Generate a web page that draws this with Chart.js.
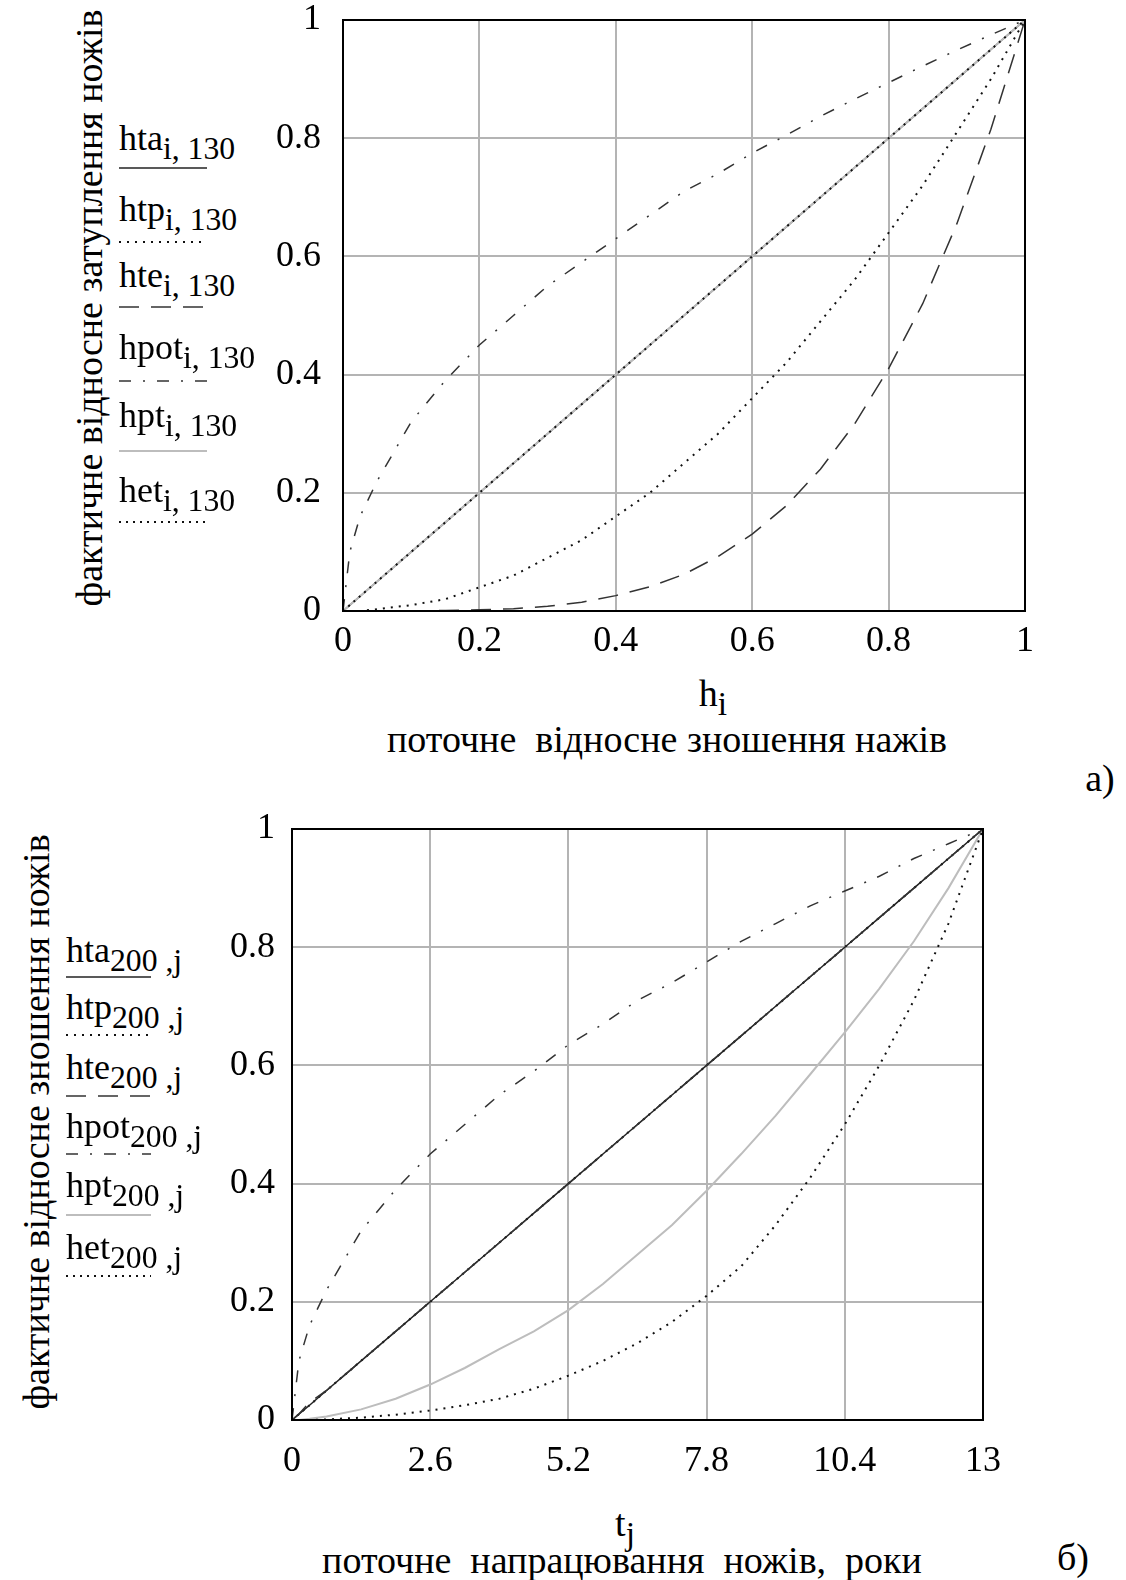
<!DOCTYPE html>
<html>
<head>
<meta charset="utf-8">
<script src="https://cdn.jsdelivr.net/npm/chart.js@4.4.0/dist/chart.umd.min.js"></script>
<style>
  body { margin: 0; background: #fff; width: 1126px; height: 1580px; position: relative; overflow: hidden;
         font-family: "Liberation Serif", "Times New Roman", serif; color: #000; }
  .cv { position: absolute; }
  .t { position: absolute; font-size: 38px; white-space: pre; line-height: 1; }
  .lt { position: absolute; font-size: 36px; white-space: pre; line-height: 1; }
  sub { font-size: 0.88em; vertical-align: -0.28em; line-height: 0; }
  .rot { position: absolute; font-size: 38px; white-space: pre; line-height: 1;
         transform: translate(-50%, -50%) rotate(-90deg); }
  .ctr { transform: translate(-50%, -50%); }
  svg.lg { position: absolute; overflow: visible; }
</style>
</head>
<body>

<canvas id="chartA" class="cv" style="left:250px;top:0px" width="820" height="660"></canvas>
<canvas id="chartB" class="cv" style="left:200px;top:800px" width="820" height="680"></canvas>

<div class="rot" style="left:89px;top:308px">фактичне відносне затуплення ножів</div>
<div class="rot" style="left:36px;top:1122px">фактичне відносне зношення ножів</div>

<div class="t ctr" style="left:713px;top:693px">h<sub>i</sub></div>
<div class="t ctr" style="left:667px;top:739px">поточне  відносне зношення нажів</div>
<div class="t ctr" style="left:1100px;top:778px">а)</div>

<div class="t ctr" style="left:625px;top:1523px">t<sub>j</sub></div>
<div class="t ctr" style="left:622px;top:1560px">поточне  напрацювання  ножів,  роки</div>
<div class="t ctr" style="left:1073px;top:1557px">б)</div>

<div id="legendA"></div>
<div id="legendB"></div>

<script>
// ---- data ----
// chart a): x = h_i (relative wear), y = relative dulling
var hA = [0, 0.01, 0.025, 0.05, 0.1, 0.15, 0.2, 0.25, 0.3, 0.35, 0.4, 0.45, 0.5, 0.55, 0.6, 0.65, 0.7, 0.75, 0.8, 0.85, 0.9, 0.95, 1];
var htaA  = [0, 0.01, 0.025, 0.05, 0.1, 0.15, 0.2, 0.25, 0.3, 0.35, 0.4, 0.45, 0.5, 0.55, 0.6, 0.65, 0.7, 0.75, 0.8, 0.85, 0.9, 0.95, 1];
var htpA  = [0, 0, 0, 0.003, 0.01, 0.02, 0.04, 0.06, 0.09, 0.12, 0.16, 0.2, 0.25, 0.3, 0.36, 0.42, 0.49, 0.56, 0.64, 0.72, 0.81, 0.9, 1];
var hteA  = [0, 0, 0, 0, 0, 0.001, 0.002, 0.004, 0.008, 0.015, 0.026, 0.041, 0.062, 0.092, 0.13, 0.178, 0.24, 0.316, 0.41, 0.52, 0.655, 0.815, 1];
var hpotA = [0, 0.1, 0.16, 0.22, 0.32, 0.39, 0.45, 0.5, 0.55, 0.59, 0.63, 0.67, 0.71, 0.74, 0.775, 0.805, 0.837, 0.866, 0.894, 0.922, 0.949, 0.975, 1];
var hptA  = [0, 0.01, 0.025, 0.05, 0.1, 0.15, 0.2, 0.25, 0.3, 0.35, 0.4, 0.45, 0.5, 0.55, 0.6, 0.65, 0.7, 0.75, 0.8, 0.85, 0.9, 0.95, 1];
var hetA  = [0, 0.01, 0.025, 0.05, 0.1, 0.15, 0.2, 0.25, 0.3, 0.35, 0.4, 0.45, 0.5, 0.55, 0.6, 0.65, 0.7, 0.75, 0.8, 0.85, 0.9, 0.95, 1];
var xTicksA = [0, 0.2, 0.4, 0.6, 0.8, 1];
var yTicks = [0, 0.2, 0.4, 0.6, 0.8, 1];

// chart б): x = t_j (years), y = relative wear
var tB = [0, 0.13, 0.33, 0.65, 1.3, 1.95, 2.6, 3.25, 3.9, 4.55, 5.2, 5.85, 6.5, 7.15, 7.8, 8.45, 9.1, 9.75, 10.4, 11.05, 11.7, 12.35, 13];
var htaB  = [0, 0.01, 0.025, 0.05, 0.1, 0.15, 0.2, 0.25, 0.3, 0.35, 0.4, 0.45, 0.5, 0.55, 0.6, 0.65, 0.7, 0.75, 0.8, 0.85, 0.9, 0.95, 1];
var htpB  = [0, 0, 0, 0.001, 0.004, 0.009, 0.016, 0.025, 0.036, 0.053, 0.075, 0.1, 0.13, 0.166, 0.21, 0.26, 0.33, 0.41, 0.5, 0.6, 0.71, 0.84, 1];
var hteB  = [0, 0.01, 0.03, 0.05, 0.1, 0.15, 0.2, 0.25, 0.3, 0.35, 0.4, 0.45, 0.5, 0.55, 0.6, 0.65, 0.7, 0.75, 0.8, 0.85, 0.9, 0.95, 1];
var hpotB = [0, 0.1, 0.16, 0.22, 0.32, 0.39, 0.45, 0.5, 0.55, 0.59, 0.635, 0.67, 0.71, 0.74, 0.775, 0.81, 0.84, 0.87, 0.895, 0.92, 0.95, 0.975, 1];
var hptB  = [0, 0, 0.002, 0.006, 0.018, 0.036, 0.06, 0.088, 0.12, 0.15, 0.186, 0.23, 0.28, 0.33, 0.388, 0.45, 0.515, 0.585, 0.656, 0.73, 0.81, 0.9, 1];
var hetB  = [0, 0.01, 0.025, 0.05, 0.1, 0.15, 0.2, 0.25, 0.3, 0.35, 0.4, 0.45, 0.5, 0.55, 0.6, 0.65, 0.7, 0.75, 0.8, 0.85, 0.9, 0.95, 1];
var xTicksB = [0, 2.6, 5.2, 7.8, 10.4, 13];

// line styles (same for both charts, like the Mathcad traces)
var estilos = {
    hta:  { color: '#222', width: 1.5, dash: [] },
    htp:  { color: '#111', width: 2, dash: [2, 6] },
    hte:  { color: '#333', width: 1.5, dash: [20, 12] },
    hpot: { color: '#333', width: 1.5, dash: [12, 12, 2, 12] },
    hpt:  { color: '#bdbdbd', width: 2, dash: [] },
    het:  { color: '#111', width: 2, dash: [2, 5] }
};

var Puntos = function (xs, ys) {
    var lst = [];
    for (var i = 0; i < xs.length; i++) {
        lst.push({ x: xs[i], y: ys[i] });
    }
    return lst;
}

var Serie = function (nombre, xs, ys, orden) {
    var e = estilos[nombre];
    return {
        label: nombre,
        data: Puntos(xs, ys),
        showLine: true,
        borderColor: e.color,
        borderWidth: e.width,
        borderDash: e.dash,
        pointRadius: 0,
        tension: 0,
        fill: false,
        order: orden
    };
}

// black frame around the plot area
var marco = {
    id: 'marco',
    afterDraw: function (chart) {
        var a = chart.chartArea;
        var ctx = chart.ctx;
        ctx.save();
        ctx.strokeStyle = '#000';
        ctx.lineWidth = 2;
        ctx.strokeRect(a.left, a.top, a.right - a.left, a.bottom - a.top);
        ctx.restore();
    }
};

var CrearChart = function (id, series, xMax, xTicks, yAxisW, xAxisH, pad, xPad, yPad) {
    var fuente = { family: '"Liberation Serif", "Times New Roman", serif', size: 36 };
    return new Chart(document.getElementById(id), {
        type: 'scatter',
        data: { datasets: series },
        plugins: [marco],
        options: {
            responsive: false,
            animation: false,
            layout: { padding: pad },
            plugins: { legend: { display: false }, tooltip: { enabled: false } },
            scales: {
                x: {
                    type: 'linear', min: 0, max: xMax,
                    afterBuildTicks: function (axis) {
                        axis.ticks = xTicks.map(function (v) { return { value: v }; });
                    },
                    afterFit: function (axis) {
                        axis.height = xAxisH;
                        axis.paddingLeft = 0; axis.paddingRight = 0;
                    },
                    ticks: {
                        color: '#000', font: fuente, padding: xPad, maxRotation: 0, autoSkip: false,
                        callback: function (v) { return String(v); }
                    },
                    grid: { color: '#b4b4b4', lineWidth: 2, drawTicks: false },
                    border: { display: false }
                },
                y: {
                    type: 'linear', min: 0, max: 1,
                    afterBuildTicks: function (axis) {
                        axis.ticks = yTicks.map(function (v) { return { value: v }; });
                    },
                    afterFit: function (axis) {
                        axis.width = yAxisW;
                        axis.paddingTop = 0; axis.paddingBottom = 0;
                    },
                    ticks: {
                        color: '#000', font: fuente, padding: yPad, autoSkip: false,
                        callback: function (v) { return String(v); }
                    },
                    grid: { color: '#b4b4b4', lineWidth: 2, drawTicks: false },
                    border: { display: false }
                }
            }
        }
    });
}

// legend entries: name, subscript, centre of text, y of sample line
var CrearLeyenda = function (idDiv, items, x0, ancho, sub) {
    var html = '';
    for (var i = 0; i < items.length; i++) {
        var it = items[i];
        var e = estilos[it.n];
        html += '<div class="lt" style="left:' + x0 + 'px;top:' + (it.ty - 19) + 'px">' + it.n + '<sub>' + sub + '</sub></div>';
        html += '<svg class="lg" style="left:' + x0 + 'px;top:' + (it.ly - 2) + 'px" width="' + ancho + '" height="4">' +
            '<line x1="0" y1="2" x2="' + ancho + '" y2="2" stroke="' + e.color + '" stroke-width="' + e.width + '"' +
            (e.dash.length ? ' stroke-dasharray="' + e.dash.join(',') + '"' : '') + '/></svg>';
    }
    document.getElementById(idDiv).innerHTML = html;
}

var seriesA = [
    Serie('hta', hA, htaA, 6),
    Serie('htp', hA, htpA, 5),
    Serie('hte', hA, hteA, 4),
    Serie('hpot', hA, hpotA, 3),
    Serie('hpt', hA, hptA, 2),
    Serie('het', hA, hetA, 1)
];
var seriesB = [
    Serie('hta', tB, htaB, 2),
    Serie('htp', tB, htpB, 5),
    Serie('hte', tB, hteB, 1),
    Serie('hpot', tB, hpotB, 3),
    Serie('hpt', tB, hptB, 6),
    Serie('het', tB, hetB, 4)
];

CrearChart('chartA', seriesA, 1, xTicksA, 93, 49, { top: 20, right: 45, left: 0, bottom: 0 }, 9, 22);
CrearChart('chartB', seriesB, 13, xTicksB, 92, 60, { top: 29, right: 37, left: 0, bottom: 0 }, 20, 17);

CrearLeyenda('legendA', [
    { n: 'hta', ty: 139, ly: 168 },
    { n: 'htp', ty: 210, ly: 242 },
    { n: 'hte', ty: 276, ly: 307 },
    { n: 'hpot', ty: 348, ly: 381 },
    { n: 'hpt', ty: 416, ly: 451 },
    { n: 'het', ty: 491, ly: 522 }
], 119, 88, 'i, 130');

CrearLeyenda('legendB', [
    { n: 'hta', ty: 951, ly: 977 },
    { n: 'htp', ty: 1008, ly: 1035 },
    { n: 'hte', ty: 1068, ly: 1096 },
    { n: 'hpot', ty: 1127, ly: 1154 },
    { n: 'hpt', ty: 1186, ly: 1215 },
    { n: 'het', ty: 1248, ly: 1276 }
], 66, 85, '200 ,j');
</script>
</body>
</html>
